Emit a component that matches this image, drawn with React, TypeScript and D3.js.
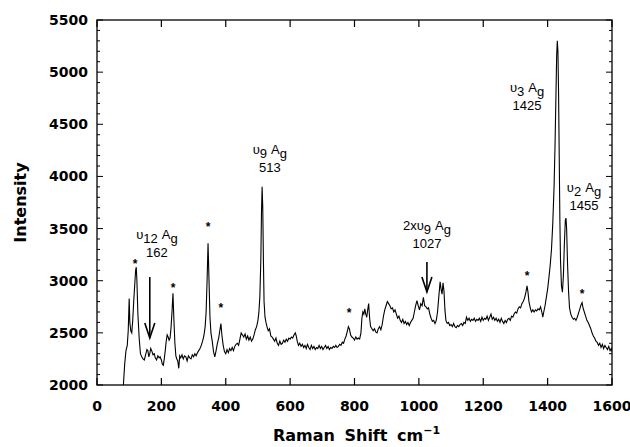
import * as d3 from "d3"

// Raman spectrum (cm-1 / counts)
const ramanShift = [
  82, 86, 90, 94, 97, 100, 102, 105, 108, 111, 114, 117, 120, 122, 124, 127, 131, 135, 139,
  143, 147, 151, 155, 158, 161, 164, 167, 171, 174, 178, 181, 185, 189, 193, 196, 200, 203, 206, 209,
  212, 215, 218, 221, 224, 227, 230, 233, 236, 239, 242, 245, 248, 251, 254, 257, 260, 264, 268, 272,
  276, 280, 284, 288, 292, 296, 300, 304, 308, 312, 316, 320, 324, 328, 332, 336, 339, 342, 345, 348,
  351, 354, 358, 362, 366, 370, 374, 378, 382, 385, 388, 392, 396, 400, 404, 408, 412, 416, 420, 424,
  428, 432, 436, 440, 444, 448, 452, 456, 460, 464, 468, 472, 476, 480, 484, 488, 492, 496, 500, 503,
  506, 509, 511, 513, 515, 517, 519, 522, 525, 528, 532, 536, 540, 544, 548, 552, 556, 560, 564, 568,
  572, 576, 580, 584, 588, 592, 596, 600, 604, 608, 612, 616, 619, 622, 626, 630, 634, 638, 642, 646,
  650, 654, 658, 662, 666, 670, 674, 678, 682, 686, 690, 694, 698, 702, 706, 710, 714, 718, 722, 726,
  730, 734, 738, 742, 746, 750, 754, 758, 762, 766, 770, 774, 778, 781, 784, 788, 792, 796, 800, 804,
  808, 812, 816, 820, 823, 826, 829, 832, 835, 838, 841, 844, 847, 850, 854, 858, 862, 866, 870, 874,
  878, 882, 886, 890, 894, 898, 902, 906, 910, 914, 918, 922, 926, 930, 934, 938, 942, 946, 950, 954,
  958, 962, 966, 970, 974, 978, 982, 986, 990, 994, 998, 1002, 1006, 1010, 1014, 1018, 1022, 1026, 1030, 1034,
  1038, 1042, 1046, 1050, 1054, 1058, 1062, 1066, 1069, 1072, 1075, 1078, 1081, 1084, 1088, 1092, 1096, 1100, 1104, 1108,
  1112, 1116, 1120, 1124, 1128, 1132, 1136, 1140, 1144, 1148, 1152, 1156, 1160, 1164, 1168, 1172, 1176, 1180, 1184, 1188,
  1192, 1196, 1200, 1204, 1208, 1212, 1216, 1220, 1224, 1228, 1232, 1236, 1240, 1244, 1248, 1252, 1256, 1260, 1264, 1268,
  1272, 1276, 1280, 1284, 1288, 1292, 1296, 1300, 1304, 1308, 1312, 1316, 1320, 1324, 1328, 1332, 1336, 1339, 1342, 1346,
  1350, 1354, 1358, 1362, 1366, 1370, 1374, 1378, 1382, 1385, 1388, 1392, 1396, 1400, 1404, 1408, 1412, 1416, 1420, 1423,
  1426, 1428, 1430, 1432, 1434, 1436, 1438, 1440, 1443, 1446, 1449, 1452, 1455, 1457, 1459, 1462, 1465, 1468, 1472, 1476,
  1480, 1484, 1488, 1492, 1496, 1500, 1504, 1507, 1510, 1514, 1518, 1522, 1526, 1530, 1534, 1538, 1542, 1546, 1550, 1554,
  1558, 1562, 1566, 1570, 1574, 1578, 1582, 1586, 1590, 1594, 1598, 1600,
]
const intensity = [
  2000, 2200, 2330, 2380, 2520, 2830, 2600, 2520, 2500, 2620, 2800, 2950, 3100, 3130, 3000, 2680, 2450, 2300, 2270,
  2250, 2240, 2290, 2340, 2330, 2270, 2300, 2350, 2320, 2290, 2300, 2260, 2240, 2280, 2260, 2270, 2240, 2200, 2190, 2250,
  2330, 2420, 2480, 2460, 2430, 2450, 2550, 2700, 2880, 2620, 2400, 2280, 2250, 2230, 2160, 2280, 2260, 2290, 2250, 2280,
  2270, 2230, 2280, 2260, 2250, 2290, 2270, 2300, 2280, 2310, 2330, 2350, 2380, 2420, 2470, 2560, 2700, 3000, 3360, 3000,
  2650, 2500, 2420, 2320, 2270, 2330, 2400, 2450, 2530, 2590, 2480, 2380, 2320, 2300, 2340, 2310, 2350, 2330, 2360, 2330,
  2370, 2390, 2400, 2380, 2440, 2500, 2480, 2460, 2490, 2440, 2470, 2430, 2460, 2420, 2440, 2480, 2530, 2560, 2620, 2700,
  2850, 3200, 3650, 3900, 3700, 3200, 2800, 2650, 2600, 2560, 2520, 2540, 2470, 2460, 2440, 2420, 2450, 2400, 2380, 2420,
  2390, 2400, 2430, 2410, 2440, 2420, 2450, 2440, 2460, 2450, 2480, 2500, 2470, 2420, 2380, 2400, 2370, 2390, 2360, 2380,
  2350, 2390, 2360, 2340, 2380, 2350, 2370, 2340, 2360, 2350, 2380, 2350, 2370, 2340, 2360, 2380, 2350, 2370, 2340, 2360,
  2350, 2370, 2360, 2380, 2360, 2370, 2390, 2380, 2410, 2400, 2440, 2470, 2520, 2560, 2540, 2480, 2460, 2450, 2430, 2460,
  2440, 2450, 2440, 2500, 2640, 2700, 2680, 2730, 2680, 2650, 2720, 2780, 2640, 2560, 2540, 2520, 2540, 2510, 2500, 2540,
  2560, 2530, 2580, 2660, 2720, 2760, 2800, 2780, 2760, 2730, 2740, 2700, 2720, 2680, 2640, 2660, 2620, 2600, 2630, 2590,
  2610, 2580, 2600, 2570, 2600, 2620, 2640, 2700, 2760, 2810, 2760, 2720, 2780, 2760, 2840, 2760, 2750, 2730, 2740, 2680,
  2640, 2610, 2620, 2590, 2620, 2700, 2850, 2990, 2920, 2870, 2980, 2900, 2720, 2620, 2590, 2600, 2570, 2580, 2560, 2590,
  2560, 2550, 2570, 2560, 2580, 2590, 2570, 2600, 2590, 2650, 2620, 2640, 2610, 2630, 2620, 2640, 2610, 2630, 2620, 2640,
  2610, 2650, 2620, 2640, 2630, 2660, 2620, 2650, 2680, 2630, 2650, 2620, 2640, 2610, 2630, 2600, 2640, 2610, 2590, 2620,
  2600, 2630, 2640, 2620, 2660, 2650, 2680, 2700, 2690, 2730, 2750, 2740, 2780, 2800, 2830, 2880, 2950, 2890, 2800, 2740,
  2700, 2720, 2700, 2720, 2710, 2730, 2720, 2750, 2700, 2650, 2700, 2760, 2840, 2920, 3030, 3150, 3300, 3550, 3900, 4300,
  4800, 5150, 5300, 5200, 4800, 4200, 3600, 3200, 2950, 2890, 3050, 3350, 3580, 3600, 3500, 3150, 2900, 2740, 2680, 2650,
  2630, 2640, 2620, 2650, 2690, 2730, 2770, 2790, 2740, 2700, 2660, 2620, 2600, 2570, 2540, 2500, 2470, 2450, 2420, 2410,
  2380, 2400, 2360, 2390, 2350, 2380, 2360, 2340, 2370, 2330, 2350, 2320,
]

// asterisks marking the extra peaks
const starShift = [118, 236, 345, 385, 783, 1336, 1507]
const starLevel = [3189, 2959, 3544, 2767, 2719, 3074, 2901]

// mode labels: [mode, sub, number], anchored at shift / level of the number baseline
const modeName = ["υ", "υ", "υ", "υ", "2xυ"]
const modeSub = ["12", "9", "3", "2", "9"]
const modeNumber = ["162", "513", "1425", "1455", "1027"]
const modeShift = [186, 537, 1336, 1513, 1025]
const modeLevel = [3227, 4042, 4637, 3678, 3314]

// arrows pointing at the weak modes
const arrowShift = [164, 1025]
const arrowTop = [3035, 3179]
const arrowTip = [2451, 2892]

const xTicks = [0, 200, 400, 600, 800, 1000, 1200, 1400, 1600]
const yTicks = [2000, 2500, 3000, 3500, 4000, 4500, 5000, 5500]

function App() {
  const W = 630, H = 447
  const x = d3.scaleLinear().domain([0, 1600]).range([97, 612])
  const y = d3.scaleLinear().domain([2000, 5500]).range([385, 20])
  const [x0, x1] = x.range()
  const [y0, y1] = y.range()

  const pts: [number, number][] = ramanShift.map((s, i) => [s, intensity[i]])
  const line = d3.line<[number, number]>().x(d => x(d[0])).y(d => y(d[1]))

  const yMinor = d3.range(2000, 5501, 100)
  const tickFont = { fontFamily: "DejaVu Sans", fontWeight: "bold", fontSize: 14 } as const
  const labFont = { fontFamily: "Liberation Sans, Arial", fontSize: 13 } as const

  return (
    <svg width={W} height={H} style={{ position: "absolute", left: 0, top: 0, background: "#fff" }}>
      <defs>
        <clipPath id="plot">
          <rect x={x0} y={y1} width={x1 - x0} height={y0 - y1} />
        </clipPath>
      </defs>

      {/* frame */}
      <rect x={x0} y={y1} width={x1 - x0} height={y0 - y1} fill="none" stroke="#000" strokeWidth={1.3} />

      {/* y ticks both sides */}
      {yMinor.map(v => {
        const len = v % 500 === 0 ? 6 : 3
        return (
          <g key={v} stroke="#000" strokeWidth={1}>
            <line x1={x0} x2={x0 + len} y1={y(v)} y2={y(v)} />
            <line x1={x1} x2={x1 - len} y1={y(v)} y2={y(v)} />
          </g>
        )
      })}
      {xTicks.map(v => (
        <g key={v} stroke="#000" strokeWidth={1.2}>
          <line x1={x(v)} x2={x(v)} y1={y0} y2={y0 - 7} />
          <line x1={x(v)} x2={x(v)} y1={y1} y2={y1 + 7} />
        </g>
      ))}

      {yTicks.map(v => (
        <text key={v} x={x0 - 9} y={y(v)} dy="0.36em" textAnchor="end" {...tickFont}>{v}</text>
      ))}
      {xTicks.map(v => (
        <text key={v} x={x(v)} y={y0 + 26} textAnchor="middle" {...tickFont}>{v}</text>
      ))}

      <text transform={`translate(26,${(y0 + y1) / 2}) rotate(-90)`} textAnchor="middle"
        fontFamily="DejaVu Sans" fontWeight="bold" fontSize={16}>Intensity</text>
      <text x={(x0 + x1) / 2 + 2} y={441} textAnchor="middle" fontFamily="DejaVu Sans" fontWeight="bold"
        fontSize={16} wordSpacing={4}>
        Raman Shift cm<tspan fontSize={11} dy={-7}>−1</tspan>
      </text>

      {/* spectrum */}
      <path d={line(pts) ?? ""} fill="none" stroke="#000" strokeWidth={1.1} clipPath="url(#plot)" />

      {starShift.map((s, i) => (
        <text key={s} x={x(s)} y={y(starLevel[i]) + 7} textAnchor="middle" fontFamily="Liberation Sans"
          fontWeight="bold" fontSize={12}>*</text>
      ))}

      {modeNumber.map((n, i) => {
        const cx = x(modeShift[i]), by = y(modeLevel[i])
        return (
          <g key={n} {...labFont}>
            <text x={cx} y={by - 18} textAnchor="middle">
              {modeName[i]}<tspan dy={4}>{modeSub[i]}</tspan>
              <tspan dy={-4} dx={4}>A</tspan><tspan dy={4}>g</tspan>
            </text>
            <text x={cx} y={by} textAnchor="middle">{n}</text>
          </g>
        )
      })}

      {arrowShift.map((s, i) => {
        const ax = x(s), top = y(arrowTop[i]), tip = y(arrowTip[i])
        return (
          <g key={s} stroke="#000" strokeWidth={1.6} fill="none">
            <line x1={ax} x2={ax} y1={top} y2={tip} />
            <path d={`M${ax - 5},${tip - 15}L${ax},${tip}L${ax + 5},${tip - 15}`} />
          </g>
        )
      })}
    </svg>
  )
}

export default App
